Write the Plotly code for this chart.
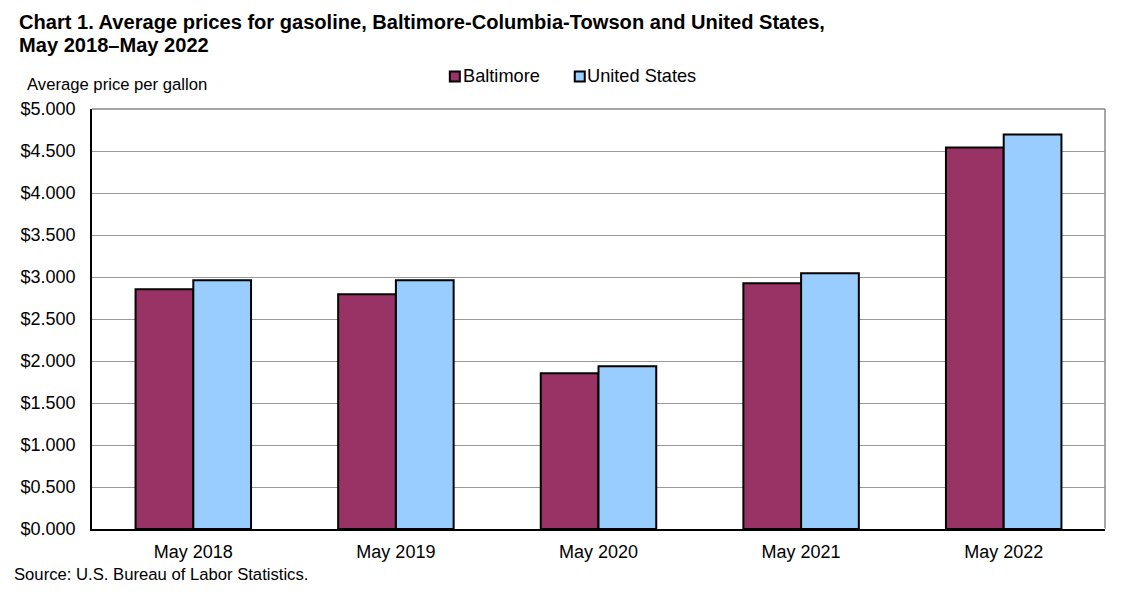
import plotly.graph_objects as go

categories = ["May 2018", "May 2019", "May 2020", "May 2021", "May 2022"]
baltimore = [2.854, 2.794, 1.855, 2.925, 4.542]
united_states = [2.96, 2.96, 1.938, 3.044, 4.697]
y_ticks = [0, 0.5, 1, 1.5, 2, 2.5, 3, 3.5, 4, 4.5, 5]
title_lines = ["Chart 1. Average prices for gasoline, Baltimore-Columbia-Towson and United States,",
               "May 2018–May 2022"]
series_names = ["Baltimore", "United States"]
series_colors = ["#993366", "#99CCFF"]

FONT = "Liberation Sans, Arial, sans-serif"
W, H = 1123, 596
L, R, T, B = 91.5, 1105, 108.5, 529


def px(x):
    return (x - L) / (R - L)


def py(y):
    return (B - y) / (B - T)


def text(s, x, y, size, bold=False):
    return dict(text=f"<b>{s}</b>" if bold else s, xref="paper", yref="paper",
                x=px(x), y=py(y), xanchor="left", yanchor="middle", showarrow=False,
                font=dict(family=FONT, size=size, color="#000000"))


fig = go.Figure()
for name, color, values in zip(series_names, series_colors, [baltimore, united_states]):
    fig.add_bar(name=name, x=categories, y=values,
                marker=dict(color=color, line=dict(color="#000000", width=2)))

legend_swatches = [(449.5, 459.5), (574.5, 584.5)]
legend_text_x = [461, 585]

shapes = [
    dict(type="line", xref="paper", yref="paper", x0=1, x1=1, y0=0, y1=1,
         line=dict(color="#888888", width=1.5), layer="below"),
    dict(type="line", xref="paper", yref="paper", x0=0, x1=1, y0=1, y1=1,
         line=dict(color="#888888", width=1.5), layer="below"),
]
for (x0, x1), color in zip(legend_swatches, series_colors):
    shapes.append(dict(type="rect", xref="paper", yref="paper",
                       x0=px(x0), x1=px(x1), y0=py(81), y1=py(71),
                       fillcolor=color, line=dict(color="#000000", width=2)))

annotations = [
    text(title_lines[0], 16, 21.5, 20.08, bold=True),
    text(title_lines[1], 16, 44, 20.08, bold=True),
    text("Average price per gallon", 24, 84, 16.67),
    text("Source: U.S. Bureau of Labor Statistics.", 11, 574.5, 16.67),
]
for name, x in zip(series_names, legend_text_x):
    annotations.append(text(name, x, 75.5, 18.2))

fig.update_layout(
    width=W, height=H, autosize=False,
    margin=dict(l=L, r=W - R, t=T, b=H - B, pad=0),
    paper_bgcolor="white", plot_bgcolor="white",
    barmode="group", bargap=0.43, bargroupgap=0,
    font=dict(family=FONT, size=18, color="#000000"),
    showlegend=False,
    xaxis=dict(showgrid=False, showline=True, linecolor="#000000", linewidth=1.5,
               ticks="outside", ticklen=6, tickcolor="rgba(0,0,0,0)",
               tickfont=dict(family=FONT, size=18), automargin=False),
    yaxis=dict(range=[0, 5], tickvals=y_ticks, tickformat="$.3f",
               showgrid=True, gridcolor="#999999", gridwidth=1,
               showline=True, linecolor="#000000", linewidth=1.5,
               ticks="outside", ticklen=11, tickcolor="rgba(0,0,0,0)",
               tickfont=dict(family=FONT, size=18), automargin=False),
    annotations=annotations,
    shapes=shapes,
)
fig.write_html("out.html", config=dict(displayModeBar=False),
               post_script="document.body.style.margin='0';document.body.style.overflow='hidden';")
